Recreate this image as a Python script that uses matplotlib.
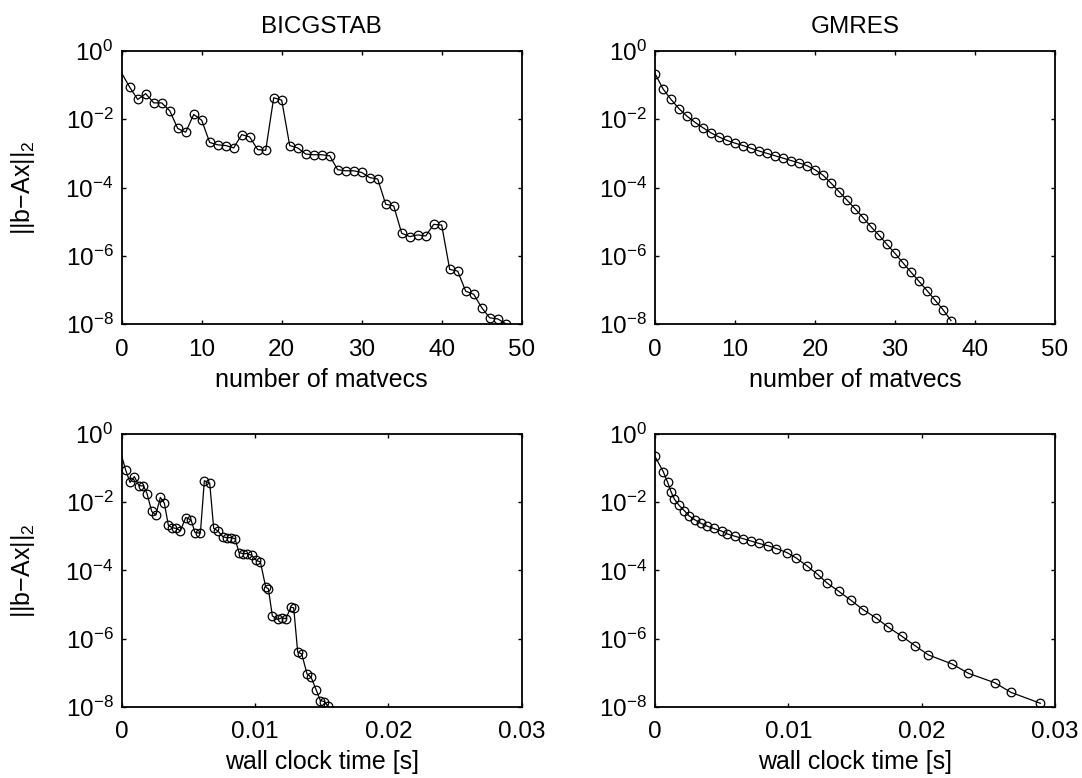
import matplotlib
matplotlib.use('Agg')
import matplotlib.pyplot as plt
import numpy as np

plt.rcParams['font.family'] = ['Liberation Sans', 'DejaVu Sans']
plt.rcParams['mathtext.fontset'] = 'custom'
plt.rcParams['mathtext.rm'] = 'Liberation Sans'
plt.rcParams['mathtext.it'] = 'Liberation Sans:italic'
plt.rcParams['mathtext.bf'] = 'Liberation Sans:bold'
plt.rcParams['font.size'] = 17.5

# log10 of residual norm per matvec
bicg_exp = [-0.65, -1.06, -1.42, -1.25, -1.52, -1.52, -1.75, -2.27, -2.38, -1.86,
            -2.03, -2.68, -2.75, -2.77, -2.84, -2.45, -2.52, -2.89, -2.91, -1.37,
            -1.44, -2.77, -2.84, -3.02, -3.04, -3.04, -3.07, -3.48, -3.51, -3.51,
            -3.56, -3.71, -3.75, -4.49, -4.54, -5.34, -5.44, -5.39, -5.42, -5.08,
            -5.10, -6.40, -6.45, -7.04, -7.13, -7.52, -7.82, -7.85, -7.99]
bicg_time = [0, 0.0003, 0.000625, 0.00095, 0.0013, 0.00163, 0.0019, 0.00225, 0.00255, 0.0029,
             0.0032, 0.0035, 0.0038, 0.0041, 0.0044, 0.0048, 0.0052, 0.0055, 0.0059, 0.0062,
             0.0066, 0.0069, 0.0072, 0.0076, 0.0079, 0.0082, 0.0085, 0.0088, 0.0091, 0.0094,
             0.00975, 0.0101, 0.0104, 0.0108, 0.0110, 0.0113, 0.0117, 0.0120, 0.0123, 0.0127,
             0.0129, 0.0132, 0.0135, 0.0139, 0.0142, 0.0146, 0.0149, 0.0152, 0.0155]

gmres_exp = [-0.66, -1.11, -1.42, -1.69, -1.91, -2.09, -2.25, -2.40, -2.52, -2.62,
             -2.70, -2.77, -2.85, -2.93, -3.00, -3.07, -3.14, -3.21, -3.28, -3.36,
             -3.48, -3.64, -3.87, -4.12, -4.37, -4.62, -4.88, -5.15, -5.40, -5.67,
             -5.93, -6.21, -6.48, -6.75, -7.02, -7.30, -7.58, -7.90]
gmres_time = [0, 0.000625, 0.00095, 0.0012, 0.00145, 0.0018, 0.0022, 0.00255, 0.003, 0.00345,
              0.0039, 0.0044, 0.0050, 0.0054, 0.006, 0.0066, 0.0072, 0.0078, 0.0085, 0.0091,
              0.0099, 0.0106, 0.0114, 0.0122, 0.0129, 0.0138, 0.0147, 0.0156, 0.0166, 0.0175,
              0.0185, 0.0195, 0.0205, 0.0223, 0.0235, 0.0255, 0.0267, 0.0289]

mv_ticks = [0, 10, 20, 30, 40, 50]
time_ticks = [0, 0.01, 0.02, 0.03]
time_labels = ['0', '0.01', '0.02', '0.03']

bicg_res = np.power(10.0, bicg_exp)
gmres_res = np.power(10.0, gmres_exp)
bicg_mv = np.arange(len(bicg_res))
gmres_mv = np.arange(len(gmres_res))

fig = plt.figure(figsize=(10.82, 7.78), dpi=100)
W, H = 1082.0, 778.0
pos = {
    (0, 0): [121.7 / W, 454 / H, 400 / W, 273 / H],
    (0, 1): [655 / W, 454 / H, 400 / W, 273 / H],
    (1, 0): [121.7 / W, 71.3 / H, 400 / W, 272.7 / H],
    (1, 1): [655 / W, 71.3 / H, 400 / W, 272.7 / H],
}

def setup(ax, xmax, xticks, xticklabels):
    ax.set_yscale('log')
    ax.set_ylim(1e-8, 1)
    ax.set_yticks([1e-8, 1e-6, 1e-4, 1e-2, 1])
    ax.minorticks_off()
    ax.set_xlim(0, xmax)
    ax.set_xticks(xticks)
    ax.set_xticklabels(xticklabels)
    ax.tick_params(direction='in', top=True, right=True, length=3, width=1)
    ax.tick_params(axis='x', pad=10.5)
    ax.tick_params(axis='y', pad=6)
    for s in ax.spines.values():
        s.set_linewidth(1.3)

ylab = '||b\u2212Ax||$_2$'
style = dict(color='black', linewidth=0.9)
mk = dict(linestyle='none', marker='o', markerfacecolor='none',
          markeredgecolor='black', markersize=6.2, markeredgewidth=0.9)

ax = fig.add_axes(pos[(0, 0)])
ax.plot(bicg_mv, bicg_res, **style)
ax.plot(bicg_mv[1:], bicg_res[1:], **mk)
setup(ax, 50, mv_ticks, [str(t) for t in mv_ticks])
ax.set_title('BICGSTAB', pad=13, fontsize=17.5)
ax.set_xlabel('number of matvecs', labelpad=5, fontsize=18)
ax.set_ylabel(ylab, labelpad=20, fontsize=18)

ax = fig.add_axes(pos[(0, 1)])
ax.plot(gmres_mv, gmres_res, **style)
ax.plot(gmres_mv, gmres_res, **mk)
setup(ax, 50, mv_ticks, [str(t) for t in mv_ticks])
ax.set_title('GMRES', pad=13, fontsize=17.5)
ax.set_xlabel('number of matvecs', labelpad=5, fontsize=18)

ax = fig.add_axes(pos[(1, 0)])
ax.plot(bicg_time, bicg_res, **style)
ax.plot(bicg_time[1:], bicg_res[1:], **mk)
setup(ax, 0.03, time_ticks, time_labels)
ax.set_xlabel('wall clock time [s]', labelpad=5, fontsize=18)
ax.set_ylabel(ylab, labelpad=20, fontsize=18)

ax = fig.add_axes(pos[(1, 1)])
ax.plot(gmres_time, gmres_res, **style)
ax.plot(gmres_time, gmres_res, **mk)
setup(ax, 0.03, time_ticks, time_labels)
ax.set_xlabel('wall clock time [s]', labelpad=5, fontsize=18)

fig.savefig('out.png', dpi=100)
